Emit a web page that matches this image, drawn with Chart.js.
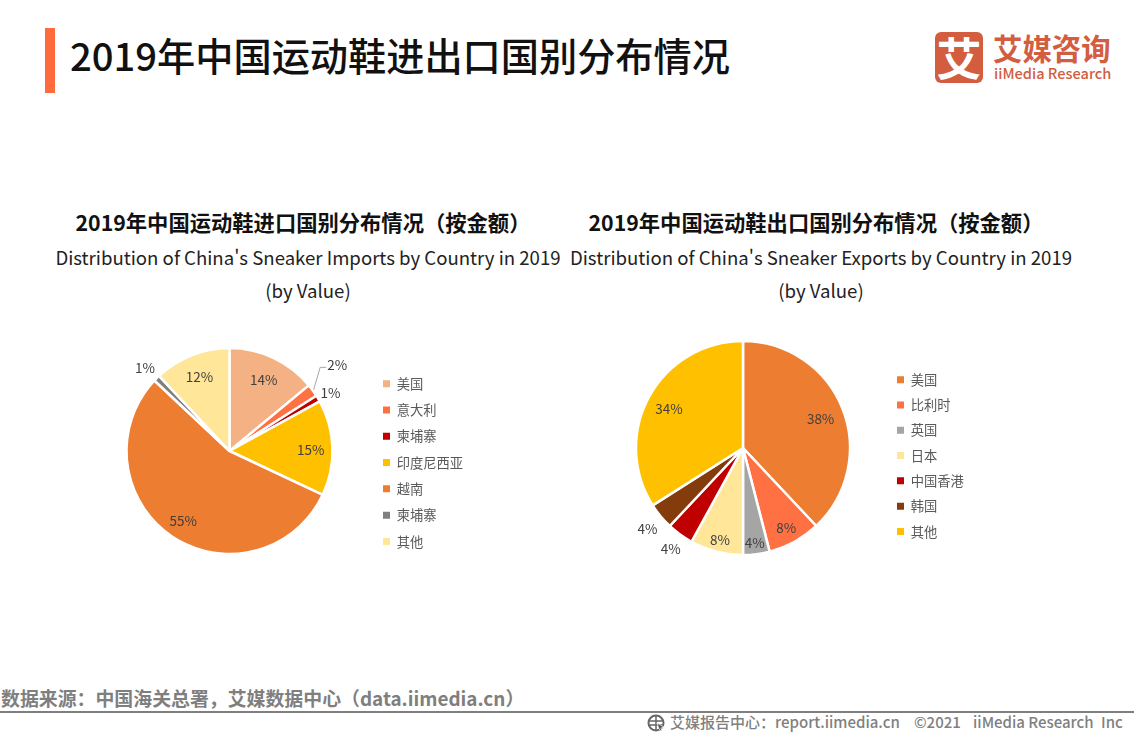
<!DOCTYPE html>
<html lang="zh-CN">
<head>
<meta charset="utf-8">
<script src="https://cdn.jsdelivr.net/npm/chart.js@4/dist/chart.umd.min.js"></script>
<style>
html,body{margin:0;padding:0;background:#fff;}
body{width:1134px;height:737px;position:relative;overflow:hidden;font-family:"Noto Sans CJK SC","Noto Sans",sans-serif;}
.t{position:absolute;white-space:nowrap;line-height:1;}
.c{transform:translateX(-50%);}
.f{top:714px;font-size:15px;font-weight:500;color:#7f7f7f;}
canvas{position:absolute;}
#wrapA,#wrapB{position:absolute;}
</style>
</head>
<body>
<div class="t" style="left:45px;top:28px;width:10px;height:65px;background:#FF6B3D"></div>
<div class="t" id="mainTitle" style="left:70px;top:36px;font-size:38.2px;font-weight:500;color:#111"></div>

<div class="t" style="left:935px;top:32px;width:48px;height:51px;border-radius:6px;background:#D25D3F;color:#fff;font-size:45px;font-weight:700;text-align:center;line-height:49px;">艾</div>
<div class="t" style="left:993px;top:33px;font-size:29.4px;font-weight:700;color:#D25D3F;">艾媒咨询</div>
<div class="t" style="left:994px;top:66px;font-size:14.6px;font-weight:500;color:#D25D3F;">iiMedia Research</div>

<div class="t c" id="aZh" style="left:303px;top:211px;font-size:21.3px;font-weight:700;color:#111"></div>
<div class="t c" id="aEn" style="left:308px;top:248px;font-size:18.6px;color:#222"></div>
<div class="t c" id="aEn2" style="left:308px;top:281px;font-size:18.6px;color:#222"></div>
<div class="t c" id="bZh" style="left:816px;top:211px;font-size:21.3px;font-weight:700;color:#111"></div>
<div class="t c" id="bEn" style="left:821px;top:248px;font-size:18.6px;color:#222"></div>
<div class="t c" id="bEn2" style="left:821px;top:281px;font-size:18.6px;color:#222"></div>

<div id="wrapA" style="left:0px;top:320px;width:500px;height:262px;"><canvas id="pieA"></canvas></div>
<div id="wrapB" style="left:513px;top:320px;width:560px;height:256px;"><canvas id="pieB"></canvas></div>

<div class="t" id="src" style="left:1px;top:689px;font-size:18.9px;font-weight:700;color:#7f7f7f"></div>
<div class="t" style="left:0;top:711px;width:1134px;height:2px;background:#7f7f7f"></div>
<svg style="position:absolute;left:647px;top:714px" width="19" height="19" viewBox="0 0 19 19">
<circle cx="9" cy="9" r="7.5" fill="none" stroke="#666" stroke-width="2"/>
<path d="M2 7H16M2 11H16M9 2V16" stroke="#666" stroke-width="1.5"/>
<path d="M10 9L17 13L14 14L15 18L12 15Z" fill="#555" stroke="#fff" stroke-width=".7"/>
</svg>
<div class="t f" id="foot1" style="left:670px"></div>
<div class="t f" id="foot2" style="left:914px"></div>
<div class="t f" id="foot3" style="left:973px"></div>
<div class="t f" id="foot4" style="left:1101px"></div>

<script>
const mainTitleText = "2019年中国运动鞋进出口国别分布情况";
const titleAZh = "2019年中国运动鞋进口国别分布情况（按金额）";
const titleAEn = "Distribution of China's Sneaker Imports by Country in 2019";
const titleBZh = "2019年中国运动鞋出口国别分布情况（按金额）";
const titleBEn = "Distribution of China's Sneaker Exports by Country in 2019";
const titleEn2 = "(by Value)";
const sourceText = "数据来源：中国海关总署，艾媒数据中心（data.iimedia.cn）";
const footTexts = ["艾媒报告中心：report.iimedia.cn","©2021","iiMedia Research","Inc"];

const importCountries = ["美国","意大利","柬埔寨","印度尼西亚","越南","柬埔寨","其他"];
const importValues = [14,2,1,15,55,1,12];
const importColors = ["#F4B183","#FF7043","#C00000","#FFC000","#ED7D31","#7F7F7F","#FFE699"];
const importLabelRadius = [0.78,1.34,1.14,0.79,0.80,1.16,0.79];

const exportCountries = ["美国","比利时","英国","日本","中国香港","韩国","其他"];
const exportValues = [38,8,4,8,4,4,34];
const exportColors = ["#ED7D31","#FF7043","#A5A5A5","#FFE699","#C00000","#843C0C","#FFC000"];
const exportLabelRadius = [0.78,0.84,0.88,0.87,1.15,1.16,0.79];

document.getElementById('mainTitle').textContent = mainTitleText;
document.getElementById('aZh').textContent = titleAZh;
document.getElementById('aEn').textContent = titleAEn;
document.getElementById('aEn2').textContent = titleEn2;
document.getElementById('bZh').textContent = titleBZh;
document.getElementById('bEn').textContent = titleBEn;
document.getElementById('bEn2').textContent = titleEn2;
document.getElementById('src').textContent = sourceText;
footTexts.forEach((s,i)=>{document.getElementById('foot'+(i+1)).textContent = s;});

const FONT = '"Noto Sans CJK SC","Noto Sans",sans-serif';

const pieLabels = {
  id:'pieLabels',
  afterDatasetsDraw(chart, args, opts){
    const {ctx} = chart;
    const arcs = chart.getDatasetMeta(0).data;
    const vals = chart.data.datasets[0].data;
    ctx.save();
    ctx.font = '13.5px '+FONT;
    ctx.fillStyle = '#404040';
    ctx.textAlign = 'center';
    ctx.textBaseline = 'middle';
    arcs.forEach((arc,i)=>{
      const p = arc.getProps(['x','y','startAngle','endAngle','outerRadius'],true);
      const mid = (p.startAngle+p.endAngle)/2;
      const r = p.outerRadius*opts.radius[i];
      let x = p.x+Math.cos(mid)*r, y = p.y+Math.sin(mid)*r+1.5;
      if(opts.leader===i){
        x -= 4; y -= 6;
        ctx.save();
        ctx.strokeStyle='#A6A6A6';ctx.lineWidth=1;
        ctx.beginPath();
        ctx.moveTo(p.x+Math.cos(mid)*(p.outerRadius+1),p.y+Math.sin(mid)*(p.outerRadius+1));
        ctx.lineTo(x-17,y+2);
        ctx.lineTo(x-11,y+2);
        ctx.stroke();
        ctx.restore();
      }
      ctx.fillText(vals[i]+'%',x,y);
    });
    ctx.restore();
  }
};
const placeLegend = {
  id:'placeLegend',
  afterLayout(chart,args,opts){
    const l = chart.legend;
    const w = l.width, h = l.height;
    l.left = opts.x; l.right = opts.x+w;
    l.top = opts.y; l.bottom = opts.y+h;
  }
};

function makePie(id,labels,values,colors,radius,labelRadius,leader,pad,legendPos,rowGap){
  return new Chart(document.getElementById(id),{
    type:'pie',
    data:{labels,datasets:[{data:values,backgroundColor:colors,borderColor:'#fff',borderWidth:2.5,radius}]},
    plugins:[pieLabels,placeLegend],
    options:{
      responsive:true,maintainAspectRatio:false,animation:false,
      layout:{padding:pad},
      plugins:{
        tooltip:{enabled:false},
        title:{display:false},
        pieLabels:{radius:labelRadius,leader},
        placeLegend:legendPos,
        legend:{position:'chartArea',align:'start',
          labels:{boxWidth:7,boxHeight:7,padding:rowGap,color:'#595959',font:{family:FONT,size:13.3},
            generateLabels(chart){
              return Chart.overrides.pie.plugins.legend.labels.generateLabels(chart).map(it=>({...it,lineWidth:0}));
            }}}
      }
    }
  });
}
makePie('pieA',importCountries,importValues,importColors,103,importLabelRadius,1,
  {left:0,right:41,top:0,bottom:0},{x:370,y:44},13);
makePie('pieB',exportCountries,exportValues,exportColors,107,exportLabelRadius,-1,
  {left:0,right:100,top:0,bottom:0},{x:372,y:41},12);
</script>
</body>
</html>
